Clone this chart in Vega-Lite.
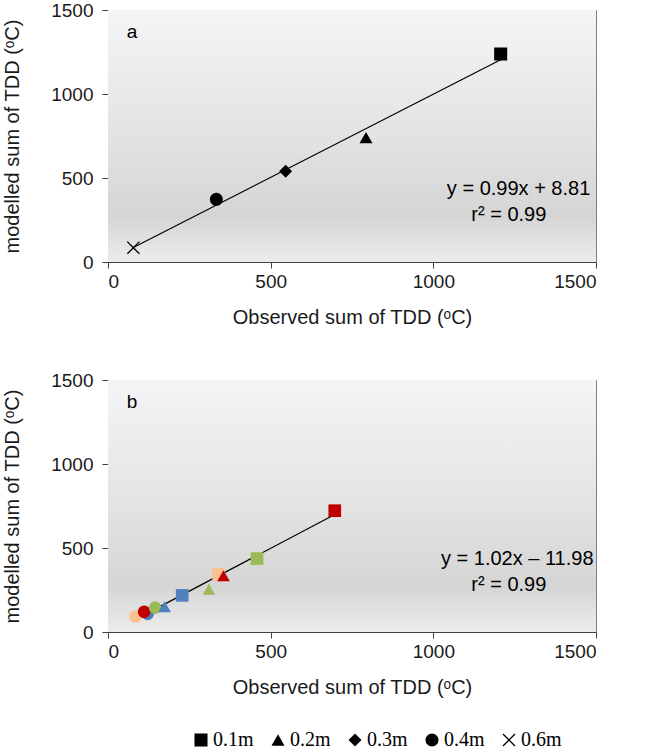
{
  "$schema": "https://vega.github.io/schema/vega-lite/v6.json",
  "background": "white",
  "padding": {"left": 2, "top": 0, "right": 10, "bottom": 0},
  "config": {
    "font": "Liberation Sans",
    "view": {"stroke": "#808080", "strokeWidth": 1},
    "axis": {
      "labelFont": "Liberation Sans", "labelFontSize": 19, "labelColor": "#1a1a1a",
      "titleFont": "Liberation Sans", "titleFontSize": 20, "titleFontWeight": "normal", "titleColor": "#1a1a1a",
      "domainColor": "#404040", "tickColor": "#404040", "grid": false, "tickSize": 6, "format": "d"
    },
    "axisX": {"titlePadding": 16, "labelPadding": 4},
    "axisY": {"titlePadding": 28, "labelPadding": 9},
    "concat": {"spacing": 42}
  },
  "datasets": {
    "pointsA": [
      {"observed": 1207, "modelled": 1238, "depth": "0.1m"},
      {"observed": 793, "modelled": 740, "depth": "0.2m"},
      {"observed": 546, "modelled": 540, "depth": "0.3m"},
      {"observed": 333, "modelled": 373, "depth": "0.4m"},
      {"observed": 78, "modelled": 85, "depth": "0.6m"}
    ],
    "lineA": [
      {"observed": 75, "modelled": 83},
      {"observed": 1207, "modelled": 1204}
    ],
    "pointsB": [
      {"observed": 85, "modelled": 92, "depth": "0.4m", "series": "orange"},
      {"observed": 122, "modelled": 108, "depth": "0.4m", "series": "blue"},
      {"observed": 111, "modelled": 120, "depth": "0.4m", "series": "red"},
      {"observed": 145, "modelled": 145, "depth": "0.4m", "series": "green"},
      {"observed": 174, "modelled": 150, "depth": "0.2m", "series": "blue"},
      {"observed": 228, "modelled": 218, "depth": "0.1m", "series": "blue"},
      {"observed": 310, "modelled": 255, "depth": "0.2m", "series": "green"},
      {"observed": 340, "modelled": 342, "depth": "0.1m", "series": "orange"},
      {"observed": 355, "modelled": 335, "depth": "0.2m", "series": "red"},
      {"observed": 458, "modelled": 437, "depth": "0.1m", "series": "green"},
      {"observed": 697, "modelled": 722, "depth": "0.1m", "series": "red"}
    ],
    "lineB": [
      {"observed": 85, "modelled": 75},
      {"observed": 697, "modelled": 699}
    ]
  },
  "vconcat": [
    {
      "width": 488,
      "height": 252,
      "layer": [
        {
          "data": {"values": [{"panel": "a"}]},
          "mark": {"type": "rect", "color": {"gradient": "linear", "x1": 0, "y1": 0, "x2": 0, "y2": 1,
            "stops": [{"offset": 0, "color": "#f5f5f7"}, {"offset": 0.5, "color": "#e3e3e4"}, {"offset": 0.82, "color": "#d5d5d5"}, {"offset": 1, "color": "#ececec"}]}},
          "encoding": {
            "x": {"datum": 0, "type": "quantitative", "scale": {"domain": [0, 1500], "nice": false}, "axis": {"values": [0, 500, 1000, 1500]}, "title": "Observed sum of TDD (ᵒC)"},
            "x2": {"datum": 1500},
            "y": {"datum": 0, "type": "quantitative", "scale": {"domain": [0, 1500], "nice": false}, "axis": {"values": [0, 500, 1000, 1500]}, "title": "modelled sum of TDD (ᵒC)"},
            "y2": {"datum": 1500}
          }
        },
        {
          "data": {"name": "lineA"},
          "mark": {"type": "line", "color": "black", "strokeWidth": 1.2},
          "encoding": {
            "x": {"field": "observed", "type": "quantitative", "title": "Observed sum of TDD (ᵒC)"},
            "y": {"field": "modelled", "type": "quantitative", "title": "modelled sum of TDD (ᵒC)"}
          }
        },
        {
          "data": {"name": "pointsA"},
          "mark": {"type": "point", "filled": true, "fill": "black", "strokeWidth": 0, "opacity": 1, "size": 170},
          "encoding": {
            "x": {"field": "observed", "type": "quantitative", "title": "Observed sum of TDD (ᵒC)"},
            "y": {"field": "modelled", "type": "quantitative", "title": "modelled sum of TDD (ᵒC)"},
            "shape": {
              "field": "depth", "type": "nominal",
              "scale": {"domain": ["0.1m", "0.2m", "0.3m", "0.4m", "0.6m"], "range": ["square", "triangle-up", "diamond", "circle", "M-1,-0.86L-0.86,-1L0,-0.14L0.86,-1L1,-0.86L0.14,0L1,0.86L0.86,1L0,0.14L-0.86,1L-1,0.86L-0.14,0Z"]},
              "legend": {"orient": "none", "legendX": 83, "legendY": 720, "direction": "horizontal", "title": null,
                "labelFont": "Liberation Serif", "labelFontSize": 20, "labelColor": "black", "symbolSize": 170,
                "symbolFillColor": "black", "symbolStrokeWidth": 0, "columnPadding": 14, "labelOffset": 2,
                "encode": {"symbols": {"update": {"fill": {"value": "black"}, "strokeWidth": {"value": 0}, "opacity": {"value": 1}}}}}
            }
          }
        },
        {
          "data": {"values": [{"note": "a"}]},
          "mark": {"type": "text", "fontSize": 19, "color": "black", "align": "center"},
          "encoding": {"x": {"datum": 74}, "y": {"datum": 1369}, "text": {"field": "note"}}
        },
        {
          "data": {"values": [{"note": "y = 0.99x + 8.81"}]},
          "mark": {"type": "text", "fontSize": 20, "color": "black", "align": "center"},
          "encoding": {"x": {"datum": 1262}, "y": {"datum": 435}, "text": {"field": "note"}}
        },
        {
          "data": {"values": [{"note": "r² = 0.99"}]},
          "mark": {"type": "text", "fontSize": 20, "color": "black", "align": "center"},
          "encoding": {"x": {"datum": 1232}, "y": {"datum": 278}, "text": {"field": "note"}}
        }
      ]
    },
    {
      "width": 488,
      "height": 252,
      "layer": [
        {
          "data": {"values": [{"panel": "b"}]},
          "mark": {"type": "rect", "color": {"gradient": "linear", "x1": 0, "y1": 0, "x2": 0, "y2": 1,
            "stops": [{"offset": 0, "color": "#f5f5f7"}, {"offset": 0.5, "color": "#e3e3e4"}, {"offset": 0.82, "color": "#d5d5d5"}, {"offset": 1, "color": "#ececec"}]}},
          "encoding": {
            "x": {"datum": 0, "type": "quantitative", "scale": {"domain": [0, 1500], "nice": false}, "axis": {"values": [0, 500, 1000, 1500]}, "title": "Observed sum of TDD (ᵒC)"},
            "x2": {"datum": 1500},
            "y": {"datum": 0, "type": "quantitative", "scale": {"domain": [0, 1500], "nice": false}, "axis": {"values": [0, 500, 1000, 1500]}, "title": "modelled sum of TDD (ᵒC)"},
            "y2": {"datum": 1500}
          }
        },
        {
          "data": {"name": "lineB"},
          "mark": {"type": "line", "color": "black", "strokeWidth": 1.2},
          "encoding": {
            "x": {"field": "observed", "type": "quantitative", "title": "Observed sum of TDD (ᵒC)"},
            "y": {"field": "modelled", "type": "quantitative", "title": "modelled sum of TDD (ᵒC)"}
          }
        },
        {
          "data": {"name": "pointsB"},
          "mark": {"type": "point", "filled": true, "opacity": 1, "size": 160, "strokeWidth": 0},
          "encoding": {
            "x": {"field": "observed", "type": "quantitative", "title": "Observed sum of TDD (ᵒC)"},
            "y": {"field": "modelled", "type": "quantitative", "title": "modelled sum of TDD (ᵒC)"},
            "shape": {"field": "depth", "type": "nominal"},
            "color": {"field": "series", "type": "nominal", "legend": null,
              "scale": {"domain": ["blue", "red", "green", "orange"], "range": ["#4f81bd", "#c00000", "#9bbb59", "#fac090"]}}
          }
        },
        {
          "data": {"values": [{"note": "b"}]},
          "mark": {"type": "text", "fontSize": 19, "color": "black", "align": "center"},
          "encoding": {"x": {"datum": 74}, "y": {"datum": 1369}, "text": {"field": "note"}}
        },
        {
          "data": {"values": [{"note": "y = 1.02x – 11.98"}]},
          "mark": {"type": "text", "fontSize": 20, "color": "black", "align": "center"},
          "encoding": {"x": {"datum": 1258}, "y": {"datum": 435}, "text": {"field": "note"}}
        },
        {
          "data": {"values": [{"note": "r² = 0.99"}]},
          "mark": {"type": "text", "fontSize": 20, "color": "black", "align": "center"},
          "encoding": {"x": {"datum": 1232}, "y": {"datum": 278}, "text": {"field": "note"}}
        }
      ]
    }
  ]
}
